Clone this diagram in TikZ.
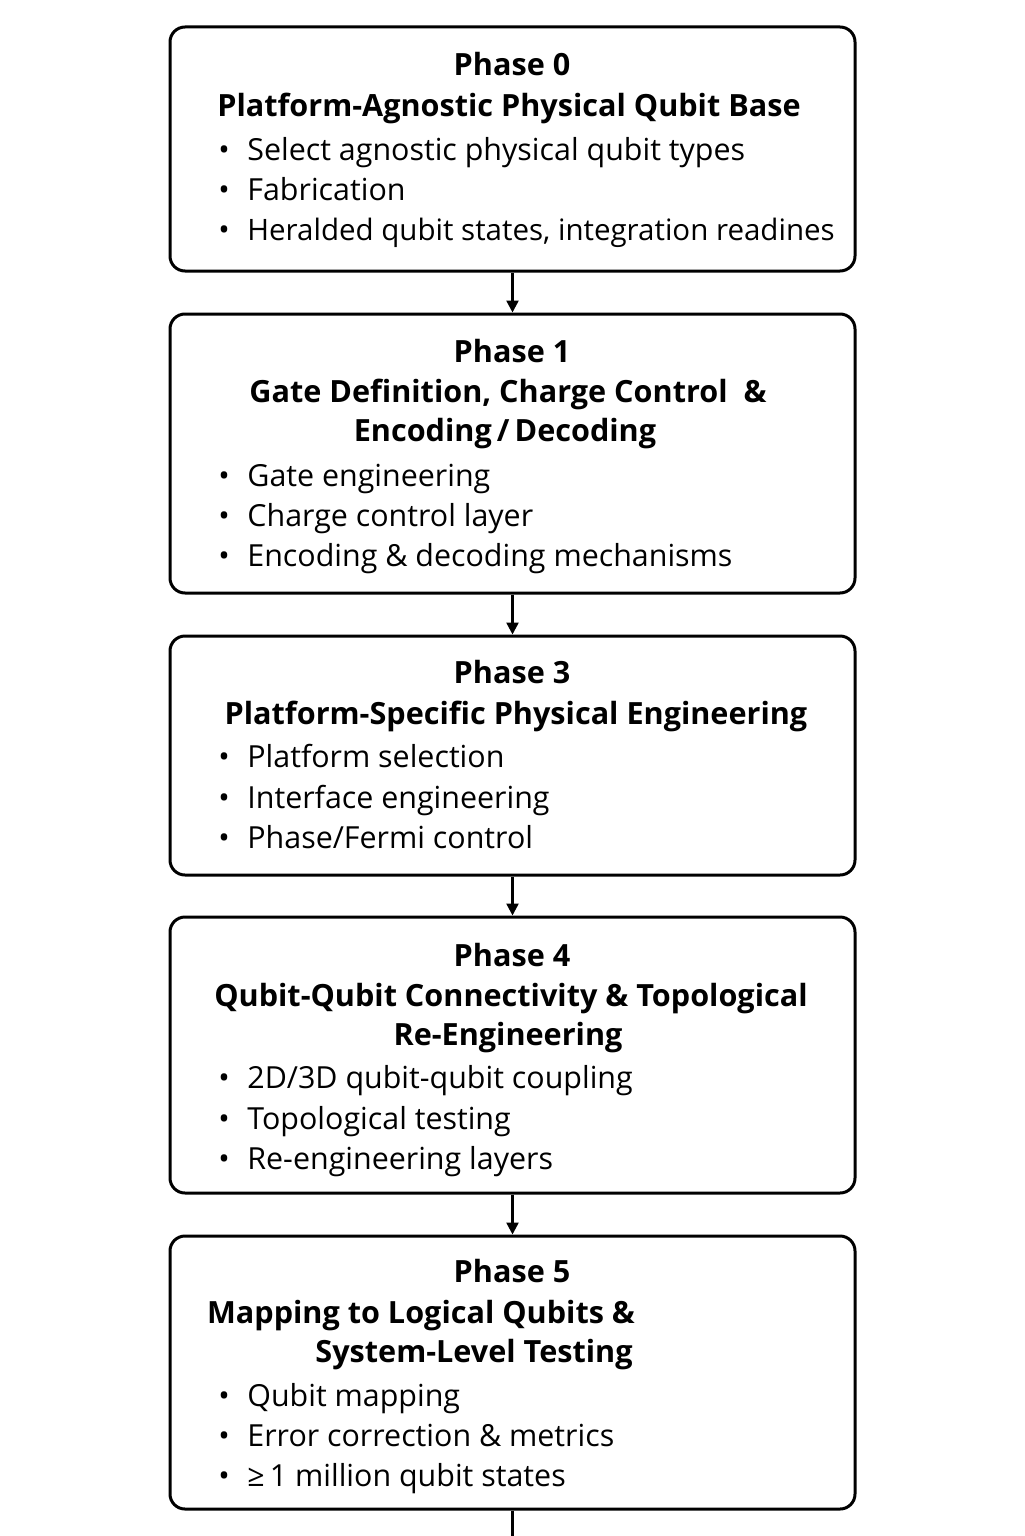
\documentclass[tikz,border=0pt]{standalone}
\usepackage{fontspec}
\setmainfont{Open Sans}
\usetikzlibrary{arrows.meta}
\begin{document}
\begin{tikzpicture}[x=0.5pt,y=-0.5pt,
  box/.style={draw=black,line width=1.5pt,rounded corners=7.5pt,minimum width=342.5pt,inner sep=0pt},
  ttl/.style={font=\fontsize{15.3}{18}\selectfont\bfseries,anchor=mid,inner sep=0pt},
  itm/.style={font=\fontsize{15.2}{18}\selectfont,anchor=mid west,inner sep=0pt},
  bul/.style={font=\fontsize{15.2}{18}\selectfont,anchor=mid,inner sep=0pt},
  conn/.style={line width=1.2pt,-{Triangle[width=6pt,length=6pt]}}]
\useasboundingbox (0,0) rectangle (1024,1536);
\fill[white] (0,0) rectangle (1024,1536);
% boxes
\node[box,minimum height=122pt] (b0) at (512.5,149) {};
\node[box,minimum height=139.5pt] (b1) at (512.5,453.5) {};
\node[box,minimum height=119.5pt] (b2) at (512.5,755.5) {};
\node[box,minimum height=138pt] (b3) at (512.5,1055) {};
\node[box,minimum height=136.5pt] (b4) at (512.5,1372.5) {};
% box 0
\node[ttl] (p0) at (512,70) {Phase 0};
\node[ttl] (t0) at (509,111) {Platform-Agnostic Physical Qubit Base};
\node[bul] (u0a) at (224,155) {•}; \node[itm] (i0a) at (247,155) {Select agnostic physical qubit types};
\node[bul] (u0b) at (224,195) {•}; \node[itm] (i0b) at (247,195) {Fabrication};
\node[bul] (u0c) at (224,235) {•}; \node[itm,font=\fontsize{14.75}{18}\selectfont] (i0c) at (247,235) {Heralded qubit states, integration readines};
% box 1
\node[ttl] (p1) at (512,357) {Phase 1};
\node[ttl] (t1a) at (508,397) {Gate Definition, Charge Control\ \ \&};
\node[ttl] (t1b) at (505,436) {Encoding\,/\,Decoding};
\node[bul] (u1a) at (224,481) {•}; \node[itm] (i1a) at (247,481) {Gate engineering};
\node[bul] (u1b) at (224,521) {•}; \node[itm] (i1b) at (247,521) {Charge control layer};
\node[bul] (u1c) at (224,561) {•}; \node[itm] (i1c) at (247,561) {Encoding \& decoding mechanisms};
% box 2
\node[ttl] (p2) at (512,678) {Phase 3};
\node[ttl] (t2) at (516,719) {Platform-Specific Physical Engineering};
\node[bul] (u2a) at (224,762) {•}; \node[itm] (i2a) at (247,762) {Platform selection};
\node[bul] (u2b) at (224,803) {•}; \node[itm] (i2b) at (247,803) {Interface engineering};
\node[bul] (u2c) at (224,843) {•}; \node[itm] (i2c) at (247,843) {Phase/Fermi control};
% box 3
\node[ttl] (p3) at (512,961) {Phase 4};
\node[ttl] (t3a) at (511,1001) {Qubit-Qubit Connectivity \& Topological};
\node[ttl] (t3b) at (508,1040) {Re-Engineering};
\node[bul] (u3a) at (224,1083) {•}; \node[itm] (i3a) at (247,1083) {2D/3D qubit-qubit coupling};
\node[bul] (u3b) at (224,1124) {•}; \node[itm] (i3b) at (247,1124) {Topological testing};
\node[bul] (u3c) at (224,1164) {•}; \node[itm] (i3c) at (247,1164) {Re-engineering layers};
% box 4
\node[ttl] (p4) at (512,1277) {Phase 5};
\node[ttl] (t4a) at (421,1318) {Mapping to Logical Qubits \&};
\node[ttl] (t4b) at (474,1357) {System-Level Testing};
\node[bul] (u4a) at (224,1401) {•}; \node[itm] (i4a) at (247,1401) {Qubit mapping};
\node[bul] (u4b) at (224,1441) {•}; \node[itm] (i4b) at (247,1441) {Error correction \& metrics};
\node[bul] (u4c) at (224,1481) {•}; \node[itm] (i4c) at (247,1481) {≥\,1 million qubit states};
% connectors
\draw[conn] (b0.south) -- (b1.north);
\draw[conn] (b1.south) -- (b2.north);
\draw[conn] (b2.south) -- (b3.north);
\draw[conn] (b3.south) -- (b4.north);
\coordinate (endc) at (512.5,1540);
\draw[line width=1.2pt] (b4.south) -- (endc);
\end{tikzpicture}
\end{document}
